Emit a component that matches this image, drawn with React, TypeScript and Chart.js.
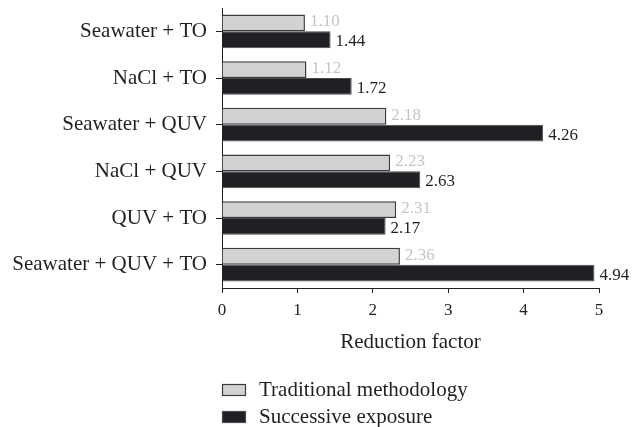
import React, { useEffect, useRef } from "react";
import { Chart, registerables } from "chart.js";

Chart.register(...registerables);

const categories = [
  "Seawater + TO",
  "NaCl + TO",
  "Seawater + QUV",
  "NaCl + QUV",
  "QUV + TO",
  "Seawater + QUV + TO",
];
const traditional = [1.1, 1.12, 2.18, 2.23, 2.31, 2.36];
const successive = [1.44, 1.72, 4.26, 2.63, 2.17, 4.94];
const seriesNames = ["Traditional methodology", "Successive exposure"];
const xMin = 0;
const xMax = 5;
const xStep = 1;
const xTitle = "Reduction factor";

const FONT = "'Liberation Serif', 'Times New Roman', serif";
const TEXT = "#231f20";
const GRAY_FILL = "#d1d2d4";
const GRAY_BORDER = "#3c3c3e";
const GRAY_LABEL = "#c4c5c7";
const BLACK_FILL = "#1f2023";
const BLACK_BORDER = "#4a4a4c";

const valueLabels = {
  id: "valueLabels",
  afterDatasetsDraw(chart: any) {
    const ctx = chart.ctx;
    ctx.save();
    ctx.font = `17px ${FONT}`;
    ctx.textAlign = "left";
    ctx.textBaseline = "middle";
    chart.data.datasets.forEach((ds: any, i: number) => {
      const meta = chart.getDatasetMeta(i);
      ctx.fillStyle = i === 0 ? GRAY_LABEL : TEXT;
      meta.data.forEach((bar: any, j: number) => {
        const v = ds.data[j] as number;
        ctx.fillText(v.toFixed(2), bar.x + 5, bar.y + (i === 0 ? -1 : 2));
      });
    });
    ctx.restore();
  },
};

const customLegend = {
  id: "customLegend",
  afterDraw(chart: any) {
    const ctx = chart.ctx;
    const left = chart.chartArea.left;
    const rows = [chart.height - 37, chart.height - 10];
    ctx.save();
    ctx.font = `21px ${FONT}`;
    ctx.textAlign = "left";
    ctx.textBaseline = "middle";
    chart.data.datasets.forEach((ds: any, i: number) => {
      const cy = rows[i];
      ctx.fillStyle = ds.backgroundColor;
      ctx.fillRect(left + 0.5, cy - 5.5, 23, 11);
      ctx.strokeStyle = ds.borderColor;
      ctx.lineWidth = 1.2;
      ctx.strokeRect(left + 0.5, cy - 5.5, 23, 11);
      ctx.fillStyle = TEXT;
      ctx.fillText(ds.label, left + 37, cy);
    });
    ctx.restore();
  },
};

export default function App() {
  const ref = useRef<HTMLCanvasElement | null>(null);

  useEffect(() => {
    if (!ref.current) return;
    Chart.defaults.font.family = FONT;
    Chart.defaults.color = TEXT;
    const chart = new Chart(ref.current, {
      type: "bar",
      data: {
        labels: categories,
        datasets: [
          {
            label: seriesNames[0],
            data: traditional,
            backgroundColor: GRAY_FILL,
            borderColor: GRAY_BORDER,
            borderWidth: 1.5,
            categoryPercentage: 0.72,
            barPercentage: 1.0,
          },
          {
            label: seriesNames[1],
            data: successive,
            backgroundColor: BLACK_FILL,
            borderColor: BLACK_BORDER,
            borderWidth: 1,
            categoryPercentage: 0.72,
            barPercentage: 1.0,
          },
        ],
      },
      options: {
        indexAxis: "y",
        responsive: false,
        animation: false,
        devicePixelRatio: 1,
        layout: { padding: { top: 8, right: 44, left: 0, bottom: 0 } },
        plugins: {
          legend: { display: false },
          tooltip: { enabled: false },
        },
        scales: {
          x: {
            type: "linear",
            min: xMin,
            max: xMax,
            ticks: {
              stepSize: xStep,
              padding: 7,
              color: TEXT,
              font: { size: 17, family: FONT },
            },
            grid: {
              drawOnChartArea: false,
              drawTicks: true,
              tickLength: 5,
              color: TEXT,
            },
            border: { display: true, color: TEXT, width: 1 },
            title: {
              display: true,
              text: xTitle,
              color: TEXT,
              font: { size: 21, family: FONT },
              padding: { top: 0, bottom: 72 },
            },
            afterFit: (scale: any) => {
              scale.height = 139;
            },
          },
          y: {
            type: "category",
            ticks: {
              padding: 9,
              color: TEXT,
              font: { size: 21, family: FONT },
            },
            grid: {
              offset: false,
              drawOnChartArea: false,
              drawTicks: true,
              tickLength: 6,
              color: TEXT,
            },
            border: { display: true, color: TEXT, width: 1 },
            afterFit: (scale: any) => {
              scale.width = 222;
              scale.paddingTop = 0;
              scale.paddingBottom = 0;
            },
          },
        },
      } as any,
      plugins: [valueLabels, customLegend],
    });
    return () => chart.destroy();
  }, []);

  return (
    <div style={{ position: "fixed", left: 0, top: 0, width: 643, height: 427, background: "#fff" }}>
      <canvas ref={ref} width={643} height={427} style={{ width: 643, height: 427 }} />
    </div>
  );
}
